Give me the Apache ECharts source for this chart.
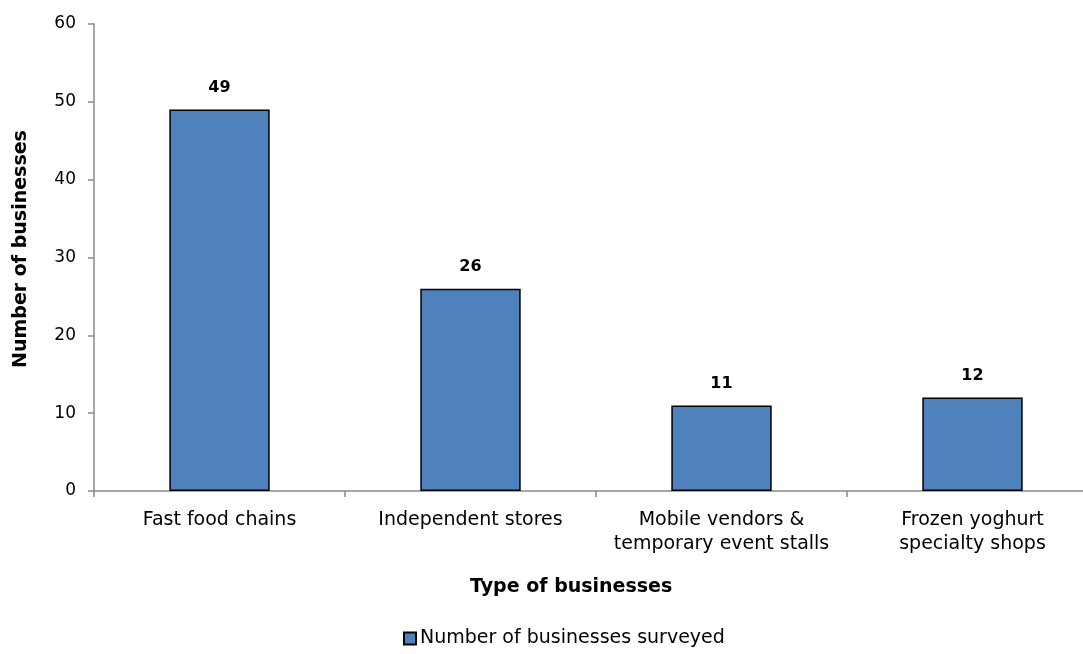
<!DOCTYPE html>
<html><head><meta charset="utf-8">
<script src="https://cdn.jsdelivr.net/npm/echarts@6/dist/echarts.min.js"></script>
<style>html,body{margin:0;padding:0;background:#fff;overflow:hidden}#c{width:1110px;height:654px}</style>
</head><body><div id="c"></div>
<script>
const categories = ["Fast food chains", "Independent stores", "Mobile vendors &\ntemporary event stalls", "Frozen yoghurt\nspecialty shops"];
const values = [49, 26, 11, 12];
const seriesName = "Number of businesses surveyed";
const yTicks = {min: 0, max: 60, interval: 10};
const FONT = "'DejaVu Sans', Verdana, sans-serif";
const chart = echarts.init(document.getElementById('c'));
chart.setOption({
  animation: false,
  textStyle: {fontFamily: FONT},
  grid: {left: 94, width: 1004, top: 24, height: 467, containLabel: false},
  xAxis: {
    type: 'category', data: categories,
    axisLine: {lineStyle: {color: '#898989', width: 1.5}},
    axisTick: {show: true, alignWithLabel: false, length: 6, lineStyle: {color: '#898989', width: 1.5}},
    axisLabel: {color: '#000', fontSize: 19, fontFamily: FONT, margin: 17, lineHeight: 24, interval: 0},
    splitLine: {show: false}
  },
  yAxis: {
    type: 'value', min: yTicks.min, max: yTicks.max, interval: yTicks.interval,
    name: 'Number of businesses', nameLocation: 'middle', nameGap: 63,
    nameTextStyle: {color: '#000', fontSize: 19, fontWeight: 'bold', fontFamily: FONT, padding: [0, 0, 0, 17]},
    axisLine: {show: true, lineStyle: {color: '#898989', width: 1.5}},
    axisTick: {show: true, length: 6, lineStyle: {color: '#898989', width: 1.5}},
    axisLabel: {color: '#000', fontSize: 17, fontFamily: FONT, margin: 18},
    splitLine: {show: false}
  },
  legend: {
    left: 398, top: 624, itemWidth: 12, itemHeight: 12, itemGap: 4,
    icon: 'rect',
    textStyle: {color: '#000', fontSize: 19, fontFamily: FONT, padding: [0,0,0,-1]},
    data: [seriesName]
  },
  graphic: [{
    type: 'text', left: 470, top: 578,
    style: {text: 'Type of businesses', font: "bold 19px 'DejaVu Sans'", fill: '#000'}
  }],
  series: [{
    type: 'bar', name: seriesName, data: values, barCategoryGap: '60%',
    itemStyle: {color: '#4F81BD', borderColor: '#000', borderWidth: 1.5},
    label: {show: true, position: 'top', distance: 14, color: '#000', fontWeight: 'bold', fontSize: 16, fontFamily: FONT}
  }]
});
</script></body></html>
